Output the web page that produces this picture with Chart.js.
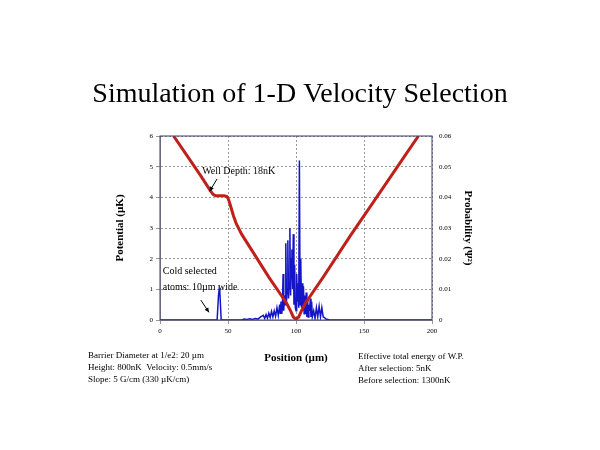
<!DOCTYPE html>
<html><head><meta charset="utf-8">
<script src="https://cdn.jsdelivr.net/npm/chart.js@4/dist/chart.umd.min.js"></script>
<style>html,body{margin:0;background:#fff}#wrap{width:600px;height:450px}</style>
</head><body><div id="wrap"><canvas id="c"></canvas></div>
<script>
// potential curve (uK) vs position (um)
var potX = [10,20,30,37,39,41,47,49,50,51,52,54,56,60,65,70,80,90,93,96,98,100,102,104,107,110,120,140,160,180,190];
var potY = [6,5.35,4.7,4.22,4.1,4.05,4.05,4.03,3.97,3.85,3.7,3.4,3.15,2.8,2.45,2.1,1.4,0.75,0.55,0.3,0.1,0.03,0.1,0.3,0.55,0.75,1.4,2.75,4.05,5.35,6.0];
// probability |psi|^2
var probX = [0,42,43,43.5,44,45,60,62,64,66,68,70,72,74,76,77,78,79,80,81,82,83,84,85,86,87,88,88.5,89,89.5,90,90.5,91,91.5,92,92.5,93,93.5,94,94.5,95,95.5,96,96.5,97,97.5,98,98.5,99,99.5,100,100.5,101,101.5,102,102.5,103,103.5,104,104.5,105,105.5,106,106.5,107,107.5,108,108.5,109,109.5,110,110.5,111,111.5,112,113,114,115,116,117,118,119,120,121,122,125,200];
var probY = [0,0,0.008,0.01,0.009,0,0,0.0003,0.0002,0.0004,0.0002,0.0005,0.0003,0.001,0.0015,0.0005,0.0018,0.0006,0.0022,0.0008,0.0028,0.001,0.003,0.0012,0.004,0.0015,0.005,0.002,0.006,0.002,0.004,0.015,0.003,0.008,0.005,0.025,0.006,0.01,0.026,0.007,0.012,0.03,0.008,0.02,0.023,0.01,0.028,0.005,0.018,0.004,0.003,0.015,0.006,0.012,0.004,0.052,0.005,0.02,0.004,0.012,0.003,0.011,0.002,0.008,0.002,0.009,0.001,0.007,0.001,0.005,0.003,0.007,0.001,0.006,0.001,0.003,0.0005,0.004,0.001,0.0045,0.001,0.004,0.001,0.0008,0.0003,0,0];
var leftTicks = [0,1,2,3,4,5,6];
var rightTicks = [0,0.01,0.02,0.03,0.04,0.05,0.06];
var xTicks = [0,50,100,150,200];

function pts(xs, ys){ return xs.map(function(x,i){ return {x:x, y:ys[i]}; }); }
var serif = 'Liberation Serif, DejaVu Serif, serif';

var textPlugin = {
  id: 'texts',
  afterDraw: function(chart){
    var g = chart.ctx, xs = chart.scales.x, ys = chart.scales.y;
    g.save();
    g.fillStyle = '#000';
    g.font = '28px ' + serif;
    g.textAlign = 'center'; g.textBaseline = 'middle';
    g.fillText('Simulation of 1-D Velocity Selection', 300, 95);
    g.font = 'bold 11px ' + serif;
    g.fillText('Position (\u00b5m)', 296, 358);
    g.save(); g.translate(120, 228); g.rotate(-Math.PI/2);
    g.fillText('Potential (\u00b5K)', 0, 0); g.restore();
    g.save(); g.translate(468, 228); g.rotate(Math.PI/2);
    g.fillText('Probability (\u03a8\u00b2)', 0, 0); g.restore();
    g.font = '9px ' + serif; g.textAlign = 'left';
    ['Barrier Diameter at 1/e2: 20 \u00b5m','Height: 800nK  Velocity: 0.5mm/s','Slope: 5 G/cm (330 \u00b5K/cm)'].forEach(function(t,i){ g.fillText(t, 88, 356 + i*12); });
    ['Effective total energy of W.P.','After selection: 5nK','Before selection: 1300nK'].forEach(function(t,i){ g.fillText(t, 358, 357 + i*12); });
    // annotations
    g.font = '10px ' + serif;
    g.fillText('Well Depth: 18nK', xs.getPixelForValue(31), ys.getPixelForValue(4.85));
    g.fillText('Cold selected', xs.getPixelForValue(2), ys.getPixelForValue(1.6));
    g.fillText('atoms: 10\u00b5m wide', xs.getPixelForValue(2), ys.getPixelForValue(1.05));
    function arrow(x1,y1,x2,y2){
      var a = xs.getPixelForValue(x1), b = ys.getPixelForValue(y1), c = xs.getPixelForValue(x2), d = ys.getPixelForValue(y2);
      g.strokeStyle = '#000'; g.lineWidth = 1;
      g.beginPath(); g.moveTo(a,b); g.lineTo(c,d); g.stroke();
      var ang = Math.atan2(d-b, c-a);
      g.beginPath(); g.moveTo(c,d);
      g.lineTo(c-5*Math.cos(ang-0.45), d-5*Math.sin(ang-0.45));
      g.lineTo(c-5*Math.cos(ang+0.45), d-5*Math.sin(ang+0.45));
      g.closePath(); g.fillStyle = '#000'; g.fill();
    }
    arrow(42, 4.6, 36.5, 4.2);
    arrow(30, 0.65, 36, 0.25);
    var ca = chart.chartArea;
    g.strokeStyle = '#3a3a70'; g.lineWidth = 1;
    g.strokeRect(ca.left, ca.top, ca.right-ca.left, ca.bottom-ca.top);
    g.restore();
  }
};

var tickFont = {family: serif, size: 7};
var dotted = { display: true, dash: [2,2], color: '#999' };
new Chart(document.getElementById('c'), {
  type: 'scatter',
  data: { datasets: [
    { data: pts(potX, potY), yAxisID: 'y', showLine: true, borderColor: '#c0201a', borderWidth: 3, pointRadius: 0 },
    { data: pts(probX, probY), yAxisID: 'y2', showLine: true, borderColor: '#1515c8', borderWidth: 1.5, pointRadius: 0 }
  ]},
  plugins: [textPlugin],
  options: {
    responsive: true, maintainAspectRatio: false, animation: false,
    layout: { padding: { left: 100, right: 100, top: 136, bottom: 112 } },
    plugins: { legend: { display: false }, tooltip: { enabled: false } },
    scales: {
      x: { type: 'linear', min: 0, max: 200, afterFit: function(s){ s.height = 18; },
        afterBuildTicks: function(s){ s.ticks = xTicks.map(function(v){ return {value:v}; }); },
        ticks: { font: tickFont, color: '#000' },
        grid: { color: '#999', tickLength: 4 }, border: dotted },
      y: { position: 'left', min: 0, max: 6, afterFit: function(s){ s.width = 60; },
        afterBuildTicks: function(s){ s.ticks = leftTicks.map(function(v){ return {value:v}; }); },
        ticks: { font: tickFont, color: '#000' },
        grid: { color: '#999', tickLength: 4 }, border: dotted },
      y2: { position: 'right', min: 0, max: 0.06, afterFit: function(s){ s.width = 68; },
        afterBuildTicks: function(s){ s.ticks = rightTicks.map(function(v){ return {value:v}; }); },
        ticks: { font: tickFont, color: '#000', callback: function(v){ return v === 0 ? '0' : v.toFixed(2); } },
        grid: { display: false, tickLength: 4 }, border: { display: false } }
    }
  }
});
</script></body></html>
